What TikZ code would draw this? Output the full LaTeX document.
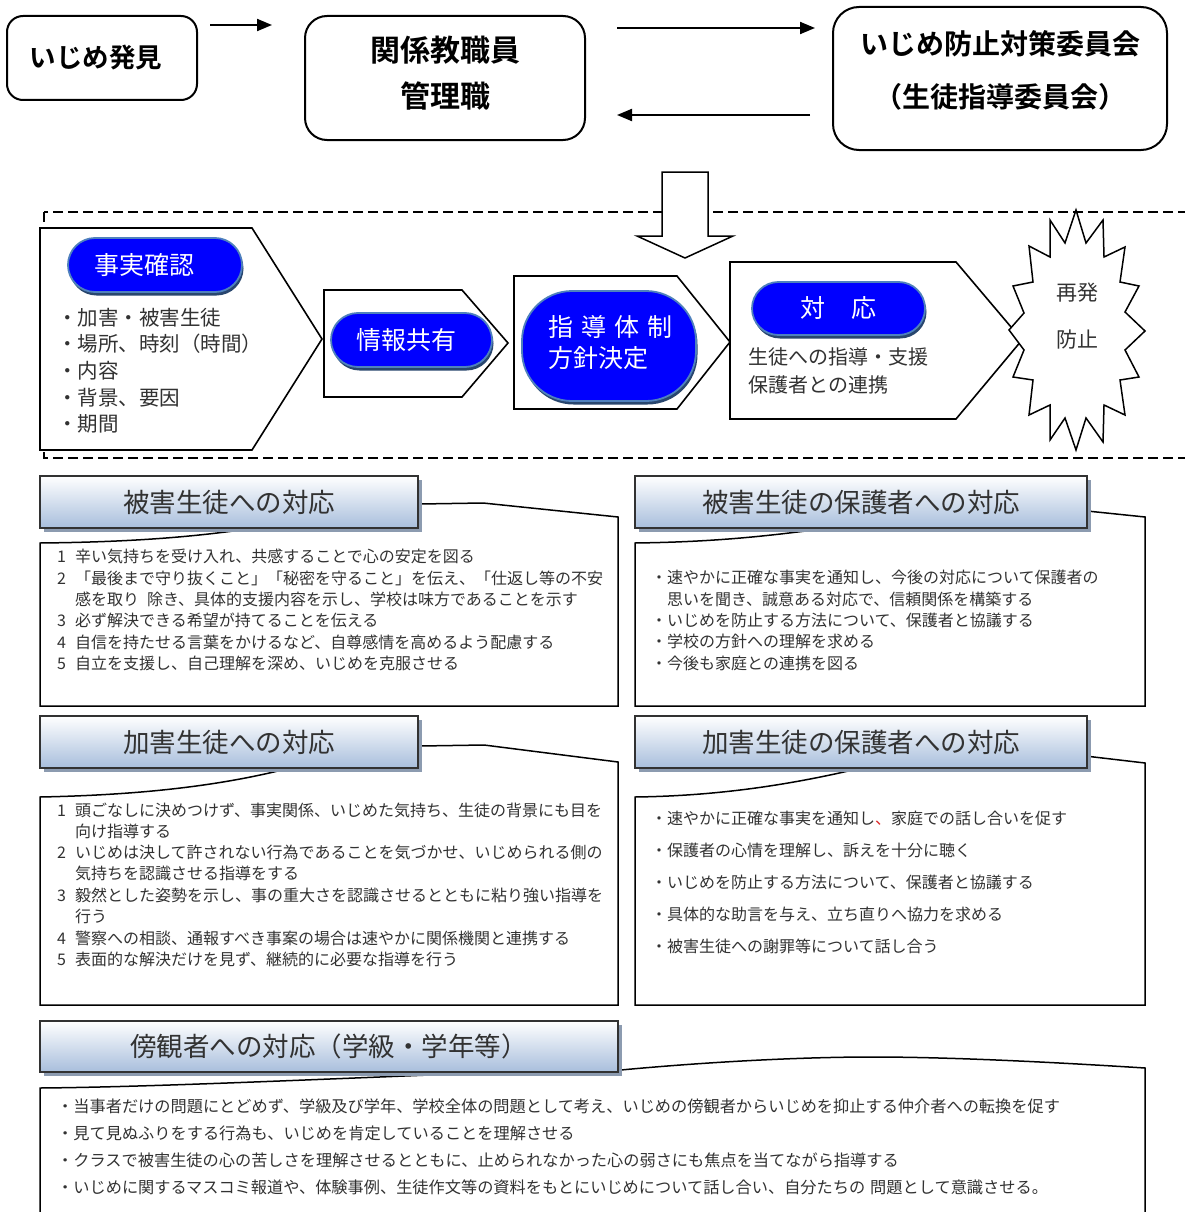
\documentclass[tikz,border=0pt]{standalone}
\usepackage{fontspec}
\setmainfont{Noto Sans CJK JP}[BoldFont={Noto Sans CJK JP Bold}]
\usetikzlibrary{arrows.meta,shadows}
\definecolor{pillblue}{RGB}{0,0,255}
\definecolor{pillborder}{RGB}{79,129,189}
\definecolor{pillshadow}{RGB}{40,70,110}
\definecolor{bannerblue}{RGB}{168,190,220}
\definecolor{bannershadow}{RGB}{140,155,176}
\definecolor{bannerborder}{RGB}{50,50,50}
\definecolor{txt}{RGB}{50,50,50}
\definecolor{redmark}{RGB}{220,40,40}
\newcommand\jfs[2]{\fontsize{#1}{#2}\selectfont}
\tikzset{
  topbox/.style={draw, line width=2pt, fill=white, inner sep=0pt},
  toptext/.style={inner sep=0pt, align=center, font=\bfseries},
  flowarrow/.style={line width=2pt, -{Triangle[length=15pt,width=12pt]}},
  penta/.style={draw, line width=1.6pt, fill=white},
  pill/.style={fill=pillblue, draw=pillborder, line width=1.8pt, inner sep=0pt,
    drop shadow={shadow xshift=1.5pt, shadow yshift=-3.5pt, fill=pillshadow, opacity=1}},
  pilltext/.style={text=white, inner sep=0pt, font=\jfs{25}{31}},
  plain/.style={text=txt, inner sep=0pt, anchor=west},
  banner/.style={draw=bannerborder, line width=2.2pt, top color=white, bottom color=bannerblue,
    inner sep=0pt, text=txt, font=\jfs{26.5}{30},
    drop shadow={shadow xshift=4pt, shadow yshift=-4pt, fill=bannershadow, opacity=1}},
  callout/.style={draw, line width=1.5pt, fill=white},
  bodytext/.style={text=txt, inner sep=0pt, anchor=west, font=\jfs{16}{20}},
  dashline/.style={line width=2pt, dash pattern=on 10pt off 5pt},
}
\begin{document}
\begin{tikzpicture}[x=1pt,y=-1pt]
\useasboundingbox (0,0) rectangle (1184,1212);
\fill[white] (0,0) rectangle (1184,1212);

% ---------- top row ----------
\node[topbox, rounded corners=16pt, minimum width=190pt, minimum height=84pt] (find) at (102,58) {};
\node[toptext, font=\bfseries\jfs{26.5}{30}] (findT) at (96,58) {いじめ発見};
\node[topbox, rounded corners=22pt, minimum width=280pt, minimum height=124pt] (staff) at (445,78) {};
\node[toptext, font=\bfseries\jfs{30}{46}] (staffT) at (445,73) {関係教職員\\管理職};
\node[topbox, rounded corners=26pt, minimum width=334pt, minimum height=143pt] (comm) at (1000,78.5) {};
\node[toptext, font=\bfseries\jfs{28}{53}] (commT) at (1000,70.5) {いじめ防止対策委員会\\（生徒指導委員会）};

\coordinate (a1s) at (210,25); \coordinate (a1e) at (272,25);
\coordinate (a2s) at (617,28); \coordinate (a2e) at (815,28);
\coordinate (a3s) at (810,115); \coordinate (a3e) at (617,115);
\draw[flowarrow] (a1s) -- (a1e);
\draw[flowarrow] (a2s) -- (a2e);
\draw[flowarrow] (a3s) -- (a3e);

% ---------- dashed frame ----------
\draw[dashline] (44,212) rectangle (1210,458);

% big hollow arrow
\draw[line width=1.5pt, fill=white] (662,172) -- (708,172) -- (708,236) -- (733,236) -- (685,258)
  -- (637,236) -- (662,236) -- cycle;

% pentagons
\draw[penta] (40,228) -- (252,228) -- (322,339) -- (252,450) -- (40,450) -- cycle;
\draw[penta] (324,290) -- (462,290) -- (508,343) -- (462,397) -- (324,397) -- cycle;
\draw[penta] (514,276) -- (677,276) -- (730,342) -- (677,409) -- (514,409) -- cycle;
\draw[penta] (730,262) -- (956,262) -- (1022,340) -- (956,419) -- (730,419) -- cycle;

% starburst
\draw[line width=1.5pt, fill=white] (1076,210) -- (1086,243) -- (1103,220) -- (1104,257) -- (1125,247)
  -- (1120,282) -- (1139,286) -- (1125,312) -- (1145,331) -- (1125,350) -- (1139,377)
  -- (1120,380) -- (1125,415) -- (1104,405) -- (1103,442) -- (1086,418) -- (1076,450)
  -- (1065,418) -- (1050,440) -- (1050,405) -- (1029,415) -- (1033,380) -- (1013,377)
  -- (1024,350) -- (1009,330) -- (1024,313) -- (1013,286) -- (1033,282) -- (1029,246)
  -- (1050,257) -- (1050,220) -- (1065,243) -- cycle;
\node[plain, anchor=center, font=\jfs{21}{25}] (saihatsu) at (1077,293) {再発};
\node[plain, anchor=center, font=\jfs{21}{25}] (boshi) at (1077,340) {防止};

% pills
\node[pill, rounded corners=27pt, minimum width=174pt, minimum height=54pt] (jjp) at (155,265) {};
\node[pilltext] (jjt) at (144,265) {事実確認};
\node[pill, rounded corners=27pt, minimum width=161pt, minimum height=54pt] (jkp) at (411.5,340) {};
\node[pilltext] (jkt) at (406,340) {情報共有};
\node[pill, rounded corners=50pt, minimum width=174pt, minimum height=110pt] (shp) at (609,346) {};
\node[pilltext, anchor=west] (sht1) at (548,327) {指\hspace{8pt}導\hspace{8pt}体\hspace{8pt}制};
\node[pilltext, anchor=west] (sht2) at (548,358) {方針決定};
\node[pill, rounded corners=26.5pt, minimum width=173pt, minimum height=53pt] (tap) at (838.5,308.5) {};
\node[pilltext] (tat) at (838.5,308) {対\hspace{26pt}応};

% list in first pentagon
\node[plain, font=\jfs{20.5}{25}] (l1) at (57,318) {・加害・被害生徒};
\node[plain, font=\jfs{20.5}{25}] (l2) at (57,344) {・場所、時刻（時間）};
\node[plain, font=\jfs{20.5}{25}] (l3) at (57,371) {・内容};
\node[plain, font=\jfs{20.5}{25}] (l4) at (57,398) {・背景、要因};
\node[plain, font=\jfs{20.5}{25}] (l5) at (57,424) {・期間};

\node[plain, font=\jfs{20}{25}] (ta1) at (748,357) {生徒への指導・支援};
\node[plain, font=\jfs{20}{25}] (ta2) at (748,385) {保護者との連携};

% ---------- box 1 ----------
\draw[callout] (40,543) -- (40,706) -- (618,706) -- (618,517) -- (483,503) -- (420,504) -- (255,528)
  .. controls (200,536) and (140,542) .. cycle;
\node[banner, minimum width=378pt, minimum height=52pt] (b1) at (229,502) {被害生徒への対応};
\node[bodytext] (b1a) at (57,556) {\makebox[18pt][l]{1}辛い気持ちを受け入れ、共感することで心の安定を図る};
\node[bodytext] (b1b) at (57,578) {\makebox[18pt][l]{2}「最後まで守り抜くこと」「秘密を守ること」を伝え、「仕返し等の不安};
\node[bodytext] (b1c) at (75,599) {感を取り\hspace{8pt}除き、具体的支援内容を示し、学校は味方であることを示す};
\node[bodytext] (b1d) at (57,620) {\makebox[18pt][l]{3}必ず解決できる希望が持てることを伝える};
\node[bodytext] (b1e) at (57,642) {\makebox[18pt][l]{4}自信を持たせる言葉をかけるなど、自尊感情を高めるよう配慮する};
\node[bodytext] (b1f) at (57,663) {\makebox[18pt][l]{5}自立を支援し、自己理解を深め、いじめを克服させる};

% ---------- box 2 ----------
\draw[callout] (635,543) -- (635,706) -- (1145,706) -- (1145,517) -- (1000,502) -- (821,529)
  .. controls (760,537) and (710,542) .. cycle;
\node[banner, minimum width=452pt, minimum height=52pt] (b2) at (861,502) {被害生徒の保護者への対応};
\node[bodytext] (b2a) at (651,577) {・速やかに正確な事実を通知し、今後の対応について保護者の};
\node[bodytext] (b2b) at (667,599) {思いを聞き、誠意ある対応で、信頼関係を構築する};
\node[bodytext] (b2c) at (651,620) {・いじめを防止する方法について、保護者と協議する};
\node[bodytext] (b2d) at (651,641) {・学校の方針への理解を求める};
\node[bodytext] (b2e) at (651,663) {・今後も家庭との連携を図る};

% ---------- box 3 ----------
\draw[callout] (40,797) -- (40,1005) -- (618,1005) -- (618,762) -- (484,745) -- (420,746) -- (290,768)
  .. controls (220,786) and (140,795) .. cycle;
\node[banner, minimum width=378pt, minimum height=52pt] (b3) at (229,742) {加害生徒への対応};
\node[bodytext] (b3a) at (57,810) {\makebox[18pt][l]{1}頭ごなしに決めつけず、事実関係、いじめた気持ち、生徒の背景にも目を};
\node[bodytext] (b3b) at (75,831) {向け指導する};
\node[bodytext] (b3c) at (57,852) {\makebox[18pt][l]{2}いじめは決して許されない行為であることを気づかせ、いじめられる側の};
\node[bodytext] (b3d) at (75,873) {気持ちを認識させる指導をする};
\node[bodytext] (b3e) at (57,895) {\makebox[18pt][l]{3}毅然とした姿勢を示し、事の重大さを認識させるとともに粘り強い指導を};
\node[bodytext] (b3f) at (75,916) {行う};
\node[bodytext] (b3g) at (57,938) {\makebox[18pt][l]{4}警察への相談、通報すべき事案の場合は速やかに関係機関と連携する};
\node[bodytext] (b3h) at (57,959) {\makebox[18pt][l]{5}表面的な解決だけを見ず、継続的に必要な指導を行う};

% ---------- box 4 ----------
\draw[callout] (635,797) -- (635,1005) -- (1145,1005) -- (1145,763) -- (1000,746) -- (857,769)
  .. controls (780,787) and (710,796) .. cycle;
\node[banner, minimum width=452pt, minimum height=52pt] (b4) at (861,742) {加害生徒の保護者への対応};
\node[bodytext] (b4a) at (651,818) {・速やかに正確な事実を通知し{\color{redmark}、}家庭での話し合いを促す};
\node[bodytext] (b4b) at (651,850) {・保護者の心情を理解し、訴えを十分に聴く};
\node[bodytext] (b4c) at (651,882) {・いじめを防止する方法について、保護者と協議する};
\node[bodytext] (b4d) at (651,914) {・具体的な助言を与え、立ち直りへ協力を求める};
\node[bodytext] (b4e) at (651,946) {・被害生徒への謝罪等について話し合う};

% ---------- box 5 ----------
\draw[callout] (40,1088) -- (40,1230) -- (1145,1230) -- (1145,1068)
  .. controls (1050,1062) and (950,1057) .. (872,1057)
  .. controls (800,1057) and (700,1062) .. (600,1072) -- (480,1073)
  .. controls (300,1080) and (150,1087) .. cycle;
\node[banner, minimum width=578pt, minimum height=51pt] (b5) at (329,1046.5) {傍観者への対応（学級・学年等）};
\node[bodytext, font=\jfs{16.2}{20}] (b5a) at (57,1106) {・当事者だけの問題にとどめず、学級及び学年、学校全体の問題として考え、いじめの傍観者からいじめを抑止する仲介者への転換を促す};
\node[bodytext, font=\jfs{16.2}{20}] (b5b) at (57,1133) {・見て見ぬふりをする行為も、いじめを肯定していることを理解させる};
\node[bodytext, font=\jfs{16.2}{20}] (b5c) at (57,1160) {・クラスで被害生徒の心の苦しさを理解させるとともに、止められなかった心の弱さにも焦点を当てながら指導する};
\node[bodytext, font=\jfs{16.2}{20}] (b5d) at (57,1187) {・いじめに関するマスコミ報道や、体験事例、生徒作文等の資料をもとにいじめについて話し合い、自分たちの\hspace{5pt}問題として意識させる。};
\end{tikzpicture}
\end{document}
